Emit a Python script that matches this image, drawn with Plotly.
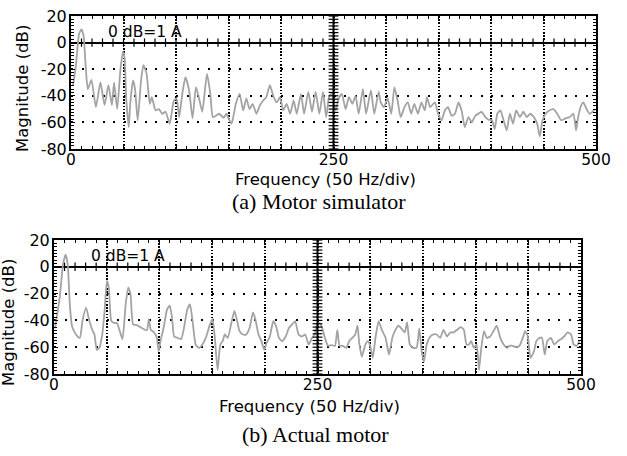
import plotly.graph_objects as go

# ---------------- data ----------------
sim_freq = [2, 4.5, 7.7, 10, 12, 14, 16, 19.5, 23.7, 28, 32, 35.6, 39, 41, 44, 47, 49.4, 51, 52.5, 55,
            56.4, 59, 61, 63.5, 66.7, 69, 72, 75, 77, 80.5, 83.7, 87, 90, 94, 98, 100.6, 103, 106, 109, 112.5,
            115.7, 119, 122, 125, 129.5, 132.7, 135, 138, 141, 145.5, 148, 151, 153, 157, 160.6, 164, 167, 170, 173, 176.6,
            180, 183, 186, 189.4, 192.6, 196, 199, 202, 205.4, 208.7, 212, 215, 219, 222, 226, 229.5, 233, 236.5, 240, 243,
            246, 248.7, 252, 255, 258, 261.5, 264.7, 268, 271, 274, 278, 281, 285.6, 288.8, 293, 295, 298, 301.6, 305, 308,
            311, 314, 317.6, 320.8, 324, 327, 330.4, 333.7, 337, 339, 342, 346.5, 349.7, 353, 356, 359, 362.5, 365.7, 369, 372,
            375, 378.5, 381.7, 385, 388, 391, 394.6, 397.8, 401, 403.5, 406, 409, 412, 415, 418, 421, 424, 427.6, 430.8, 434,
            437.5, 440.7, 444, 446.5, 449, 452, 455.5, 459.6, 463, 467, 471, 475, 478.5, 481, 483, 486, 488, 491, 494, 499]
sim_db = [-32, -18.5, 6.5, 10, 5, -18, -35, -28, -48.5, -30, -47, -32, -47, -30, -50, -21, -7, -11, -41, -63.5,
          -46, -28.5, -35, -58.5, -28.5, -17, -23.5, -46, -41, -51, -50, -53.5, -52, -61, -43.5, -42, -56, -38.5, -26, -36,
          -57, -33.5, -42, -52, -23.5, -38.5, -56, -55, -53.5, -56.5, -53.5, -58.5, -61, -46, -38.5, -51, -42, -50, -46, -53.5,
          -47, -43.5, -41, -32, -40, -45, -41, -51, -46, -53.5, -43.5, -53.5, -38.5, -53.5, -37, -52, -37, -53.5, -37, -56,
          -40, -38.5, -51, -42, -38.5, -50, -41, -46, -40, -53.5, -35, -53.5, -36, -53.5, -37, -45, -48.5, -42, -53.5, -33.5,
          -43.5, -56, -48.5, -45, -53.5, -46, -53.5, -45, -51, -41, -48.5, -45, -53.5, -58.5, -51, -48.5, -55, -53.5, -45, -51,
          -63.5, -56, -60, -55, -53.5, -52, -56, -58, -58.5, -65, -53.5, -51, -58.5, -66, -53.5, -61, -51, -56, -52, -56,
          -53.5, -56, -61, -70.5, -58.5, -53.5, -51, -50, -53.5, -58.5, -57, -56, -53.5, -66, -56, -47, -45, -50, -53.5, -50]

act_freq = [1, 5.4, 8.6, 11, 13, 15, 17, 19, 22.4, 24.6, 27, 30.4, 33.6, 36.8, 38.4, 40.6, 43, 45.8, 48, 50.2,
            52, 54.4, 57.6, 59.8, 62.4, 65, 68, 70.4, 72.6, 75, 78.4, 83, 88, 90, 91.8, 95, 97.6, 99.2, 101.4, 104,
            107.2, 109.8, 112, 114, 117.4, 120.6, 123, 126.4, 129, 131.5, 134.4, 137.6, 140.8, 144, 148, 150.4, 152.6, 155.2, 157.8, 160,
            162, 164.8, 168, 171.2, 173.8, 176, 179.2, 182.4, 185.6, 188.8, 191, 194, 196.8, 199.4, 201.6, 204.8, 208, 210.6, 213.4, 216.6,
            219.8, 223, 226, 228.8, 232, 235.2, 238.4, 241.6, 244.8, 247.4, 249.6, 252, 254.4, 257, 260, 263.4, 266.6, 268.8, 271, 274,
            277.4, 280, 283, 285.8, 288, 289.6, 292, 295.4, 297.6, 300, 302.4, 305, 308, 311, 314.6, 317.8, 321, 324,
            327, 330.6, 332.8, 335, 337.6, 340.8, 344, 346.6, 348.8, 351, 353.6, 357, 360, 363, 366.4, 369.6, 372.8, 376,
            379, 382.4, 386, 388.8, 391.4, 393.6, 395.8, 398.4, 401, 403.2, 405.4, 408, 410.6, 413.8, 417, 420, 423.4, 426.6,
            429.8, 432.3, 435.2, 438.4, 441.6, 444.8, 447, 449.6, 452, 455.4, 457.6, 460.8, 463, 465.6, 468, 471.4, 474.6, 478,
            481, 484, 487.4, 490.6, 493, 496, 498.4]
act_db = [-46, -23, 2, 9, 2, -28, -44, -48, -52, -53, -40.5, -30.5, -40.5, -48, -50.5, -62, -60.5, -50.5, -33, -10.5,
          -15.5, -40.5, -42, -42, -48, -54, -28, -15.5, -20.5, -43, -43.5, -45.5, -47.5, -39, -47, -49, -53, -63, -54, -45.5,
          -32, -29, -38, -52, -53, -54, -47, -32, -28, -40.5, -58, -60.5, -58, -53, -43, -39, -53, -77, -58, -55.5,
          -50.5, -53, -43, -33, -40.5, -48, -50.5, -50.5, -45.5, -34, -39, -50.5, -55.5, -62, -57, -52, -40.5, -44, -53, -55.5,
          -52, -45.5, -43, -40.5, -50.5, -52, -50.5, -58, -53, -50.5, -43, -42, -45.5, -53, -59, -58.5, -59, -47, -59, -59,
          -60.5, -55.5, -53, -50.5, -44, -57, -67, -58, -55.5, -59, -68, -53, -40.5, -47, -53, -65.5, -53, -47,
          -44, -47, -49, -41.5, -58, -60.5, -60.5, -46, -63, -71, -58, -52, -50.5, -50.5, -53, -47, -52, -49,
          -49, -47, -45, -47, -58, -58, -55.5, -60.5, -58, -77, -60.5, -48, -53, -52, -48, -44, -53, -58,
          -60.5, -59, -59, -60, -59, -53, -48, -52, -68, -63, -55.5, -53, -53, -65.5, -55.5, -53, -58, -55.5,
          -54, -52, -49, -50.5, -58, -59, -55.5]

freq_grid = [0, 50, 100, 150, 200, 250, 300, 350, 400, 450, 500]
freq_labels = ["0", "", "", "", "", "250", "", "", "", "", "500"]
db_ticks = [-80, -60, -40, -20, 0, 20]
db_labels = ["-80", "-60", "-40", "-20", "0", "20"]
zero_ticks_f = list(range(10, 500, 10))
center_ticks_db = [v / 2 for v in range(-160, 41, 5)]
center_freq = 250
db_range = [-80, 20]
f_range = [0, 500]
captions = ["(a) Motor simulator", "(b) Actual motor"]
note = "0 dB=1 A"

SANS = "DejaVu Sans"
SERIF = "Liberation Serif"

fig = go.Figure()

panels = [
    dict(xa="x", ya="y", freq=sim_freq, db=sim_db),
    dict(xa="x2", ya="y2", freq=act_freq, db=act_db),
]

for p in panels:
    # spectrum curve
    fig.add_trace(go.Scatter(x=p["freq"], y=p["db"], mode="lines",
                             line=dict(color="#a3a3a3", width=1.8, shape="spline", smoothing=0.5),
                             xaxis=p["xa"], yaxis=p["ya"], showlegend=False, hoverinfo="skip"))
    # solid centre line at 250 Hz
    fig.add_trace(go.Scatter(x=[center_freq, center_freq], y=db_range, mode="lines",
                             line=dict(color="black", width=2),
                             xaxis=p["xa"], yaxis=p["ya"], showlegend=False, hoverinfo="skip"))
    # tick marks on the centre line
    fig.add_trace(go.Scatter(x=[center_freq] * len(center_ticks_db), y=center_ticks_db, mode="markers",
                             marker=dict(symbol="line-ew", size=7, line=dict(color="black", width=1.2)),
                             xaxis=p["xa"], yaxis=p["ya"], showlegend=False, hoverinfo="skip"))
    # tick marks on the 0 dB line
    fig.add_trace(go.Scatter(x=zero_ticks_f, y=[0] * len(zero_ticks_f), mode="markers",
                             marker=dict(symbol="line-ns", size=6, line=dict(color="black", width=1.2)),
                             xaxis=p["xa"], yaxis=p["ya"], showlegend=False, hoverinfo="skip"))

xcommon = dict(range=f_range, tickmode="array", tickvals=freq_grid, ticktext=freq_labels,
               ticks="inside", ticklen=4, tickwidth=1.2, tickcolor="black", ticklabelstandoff=-5,
               minor=dict(dtick=10, tick0=0, ticks="inside", ticklen=3, tickwidth=1.2, tickcolor="black",
                          showgrid=False),
               showline=True, linewidth=2, linecolor="black", mirror="ticks",
               showgrid=True, gridcolor="black", gridwidth=1.5, griddash="1.5px,1.7px",
               zeroline=False, tickfont=dict(family=SANS, size=15.5, color="black"),
               automargin=False, fixedrange=True)
ycommon = dict(range=db_range, tickmode="array", tickvals=db_ticks, ticktext=db_labels,
               ticks="inside", ticklen=4, tickwidth=1.2, tickcolor="black", ticklabelstandoff=-1,
               minor=dict(dtick=2.5, tick0=0, ticks="inside", ticklen=3, tickwidth=1, tickcolor="black",
                          showgrid=False),
               showline=True, linewidth=2, linecolor="black", mirror="ticks",
               showgrid=True, gridcolor="black", gridwidth=2, griddash="2px,8.5px",
               zeroline=True, zerolinecolor="black", zerolinewidth=2,
               tickfont=dict(family=SANS, size=16, color="black"),
               automargin=False, fixedrange=True)

W, H = 627, 456
fig.update_layout(
    width=W, height=H, margin=dict(l=0, r=0, t=0, b=0, pad=0, autoexpand=False),
    paper_bgcolor="white", plot_bgcolor="white", showlegend=False,
    xaxis=dict(xcommon, domain=[71 / W, 596 / W], anchor="y"),
    yaxis=dict(ycommon, domain=[1 - 149 / H, 1 - 16 / H], anchor="x"),
    xaxis2=dict(xcommon, domain=[54 / W, 581 / W], anchor="y2"),
    yaxis2=dict(ycommon, domain=[1 - 374 / H, 1 - 240 / H], anchor="x2"),
)

ann = []
# "0 dB=1 A" notes
for xr, yr in [("x", "y"), ("x2", "y2")]:
    ann.append(dict(text=note, x=70.5, y=8, xref=xr, yref=yr, showarrow=False,
                    font=dict(family=SANS, size=15.5, color="black"), xanchor="center", yanchor="middle"))
# axis titles
ann.append(dict(text="Frequency (50 Hz/div)", x=325 / W, y=1 - 179 / H, xref="paper", yref="paper",
                showarrow=False, font=dict(family=SANS, size=16.5, color="black"),
                xanchor="center", yanchor="middle"))
ann.append(dict(text="Frequency (50 Hz/div)", x=309 / W, y=1 - 406 / H, xref="paper", yref="paper",
                showarrow=False, font=dict(family=SANS, size=16.5, color="black"),
                xanchor="center", yanchor="middle"))
ann.append(dict(text="Magnitude (dB)", x=22 / W, y=1 - 89 / H, xref="paper", yref="paper", textangle=-90,
                showarrow=False, font=dict(family=SANS, size=16.5, color="black"),
                xanchor="center", yanchor="middle"))
ann.append(dict(text="Magnitude (dB)", x=8 / W, y=1 - 323 / H, xref="paper", yref="paper", textangle=-90,
                showarrow=False, font=dict(family=SANS, size=16.5, color="black"),
                xanchor="center", yanchor="middle"))
# captions
ann.append(dict(text=captions[0], x=319 / W, y=1 - 202 / H, xref="paper", yref="paper",
                showarrow=False, font=dict(family=SERIF, size=22, color="black"),
                xanchor="center", yanchor="middle"))
ann.append(dict(text=captions[1], x=315 / W, y=1 - 434 / H, xref="paper", yref="paper",
                showarrow=False, font=dict(family=SERIF, size=22, color="black"),
                xanchor="center", yanchor="middle"))
fig.update_layout(annotations=ann)

fig.write_html("out.html", config={"displayModeBar": False},
               post_script="document.body.style.margin='0';document.body.style.overflow='hidden';")
